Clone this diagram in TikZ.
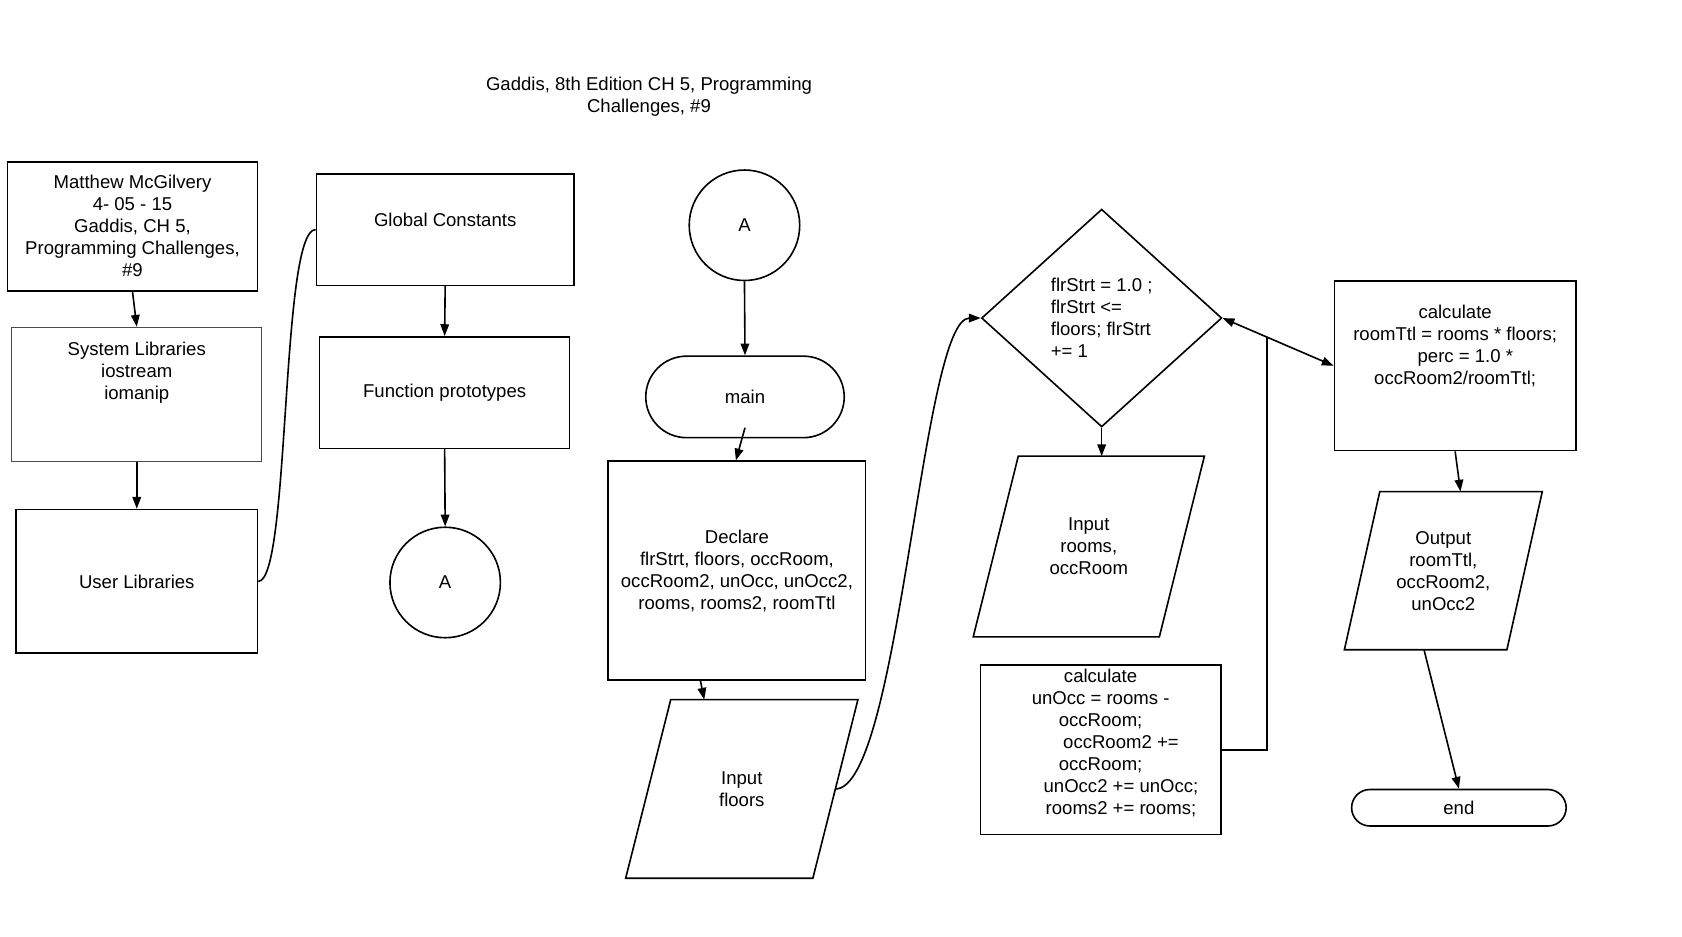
\documentclass[tikz,border=0pt]{standalone}
\usepackage{fontspec}
\setmainfont{Liberation Sans}
\usepackage{xcolor}
\usepackage{tikz}
\usetikzlibrary{arrows.meta,calc,shapes.geometric,shapes.misc}
\definecolor{chartink}{HTML}{000000}
\definecolor{libgray}{HTML}{4A4A4A}
% parallelogram round the body of an io node: #1 node, #2 slant
\newcommand{\drawio}[2]{\draw ([xshift=-#2]#1.south west) -- (#1.north west) -- ([xshift=#2]#1.north east) -- (#1.south east) -- cycle;}

\begin{document}
\begin{tikzpicture}[x=1pt,y=-1pt,
    font=\fontsize{17.3}{20.5}\selectfont,
    line width=1.5pt, draw=chartink,
    >={Triangle[length=11pt,width=8pt]},
    box/.style={draw,rectangle,align=center,inner sep=0pt},
    io/.style={rectangle,align=center,inner sep=0pt},
    term/.style={draw,rounded rectangle,inner sep=0pt},
    conn/.style={draw,circle,minimum size=103pt,inner sep=0pt},
    test/.style={draw,diamond,inner sep=0pt,minimum width=224pt,minimum height=203pt,align=left},
    toptext/.style={anchor=north,align=center,yshift=#1}]
        \useasboundingbox (0,0) rectangle (1568,873);

        \node[align=center] (title) at (605,90) {Gaddis, 8th Edition CH 5, Programming\\Challenges, \#9};

        % left column
        \node[box,minimum width=233pt,minimum height=120pt] (author) at (123.5,211)
          {Matthew McGilvery\\4- 05 - 15\\Gaddis, CH 5,\\Programming Challenges,\\\#9};
        \node[box,draw=libgray,line width=0.8pt,minimum width=233pt,minimum height=125pt,
          label={[toptext=-10pt]north:System Libraries\\iostream\\iomanip}] (syslib) at (127.5,367.5) {};
        \node[box,minimum width=225pt,minimum height=134pt] (userlib) at (127.5,542) {User Libraries};
        \node[box,minimum width=240pt,minimum height=104pt,
          label={[toptext=-33pt]north:Global Constants}] (globals) at (415,214) {};
        \node[box,minimum width=233pt,minimum height=104pt] (protos) at (414.5,366) {Function prototypes};
        \node[conn] (connA) at (415,543) {A};

        % main
        \node[conn] (startA) at (694,210) {A};
        \node[term,minimum width=185pt,minimum height=76pt] (main) at (694.5,370) {main};
        \node[box,minimum width=240pt,minimum height=204pt] (declare) at (687,532)
          {Declare\\flrStrt, floors, occRoom,\\occRoom2, unOcc, unOcc2,\\rooms, rooms2, roomTtl};
        \node[io,minimum width=131pt,minimum height=165pt] (inFloors) at (691.5,735.5) {Input\\floors};
        \drawio{inFloors}{42pt}

        % loop
        \node[test] (loop) at (1027,296.5) {flrStrt = 1.0 ;\\flrStrt <=\\floors; flrStrt\\+= 1};
        \node[io,minimum width=130pt,minimum height=167pt] (inRooms) at (1015,509.5) {Input\\rooms,\\occRoom};
        \drawio{inRooms}{42pt}
        \node[box,minimum width=224pt,minimum height=158pt,
          label={[toptext=0pt]north:calculate\\unOcc = rooms -\\occRoom;\\\hspace*{38pt}occRoom2 +=\\occRoom;\\\hspace*{38pt}unOcc2 += unOcc;\\\hspace*{38pt}rooms2 += rooms;}]
          (calcRooms) at (1026,699) {};

        % results
        \node[box,minimum width=225pt,minimum height=158pt,
          label={[toptext=-19pt]north:calculate\\roomTtl = rooms * floors;\\\hspace*{19pt}perc = 1.0 *\\occRoom2/roomTtl;}]
          (calcTotal) at (1356.5,341) {};
        \node[io,minimum width=117pt,minimum height=146pt] (output) at (1345.5,532) {Output\\roomTtl,\\occRoom2,\\unOcc2};
        \drawio{output}{33pt}
        \node[term,minimum width=200pt,minimum height=34pt] (finish) at (1360,753) {end};

        \draw[->] (author.south) -- (syslib.north);
        \draw[->] (syslib.south) -- (userlib.north);
        \draw (userlib.east) .. controls +(30,0) and +(-33,0) .. (globals.west);
        \draw[->] (globals.south) -- (protos.north);
        \draw[->] (protos.south) -- (connA.north);

        \draw[->] (startA.south) -- (main.north);
        \draw[->] ([yshift=10pt]main.south) -- ([xshift=-1pt]declare.north);
        \draw[->] ([xshift=-34pt]declare.south) -- ([xshift=-35pt]inFloors.north);
        \draw[->] ([xshift=21pt]inFloors.east) .. controls +(60,0) and +(-55,0) .. (loop.west);

        \draw[->] (loop.south) -- (loop.south |- inRooms.north);
        \coordinate (back) at ($(loop.east)!0.4!(calcTotal.west)$);
        \draw[<->] (loop.east) -- (calcTotal.west);
        \draw (calcRooms.east) -| (back);
        \draw[->] (calcTotal.south) -- ([xshift=16pt]output.north);
        \draw[->] ([xshift=-18pt]output.south) -- (finish.north);
      \end{tikzpicture}
\end{document}
